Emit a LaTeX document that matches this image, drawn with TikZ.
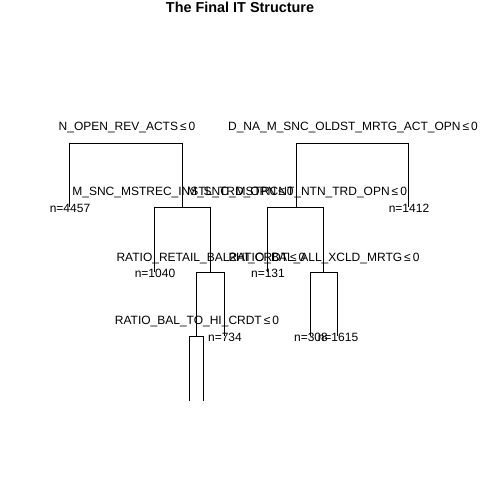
\documentclass[tikz,border=0pt]{standalone}
\usepackage{fontspec}
\setmainfont{Liberation Sans}
\begin{document}
\begin{tikzpicture}[x=0.75pt,y=-0.75pt,
  lab/.style={font=\fontsize{9}{10}\selectfont, inner sep=0pt, anchor=base},
  cnt/.style={font=\fontsize{9}{10}\selectfont, inner sep=0pt, anchor=base},
  edge/.style={draw=black, line width=0.75pt}]
\fill[white] (0,0) rectangle (480,480);
\useasboundingbox (0,0) rectangle (480,480);
% title
\node[font=\fontsize{10.8}{12}\selectfont\bfseries, inner sep=0pt, anchor=base] (title) at (240,12.7) {The Final IT Structure};
% bracket corners
\coordinate (s1l) at (70,143);  \coordinate (s1r) at (183,143);
\coordinate (s2l) at (297,143); \coordinate (s2r) at (409,143);
\coordinate (s3l) at (155,207); \coordinate (s3m) at (183,207); \coordinate (s3r) at (211,207);
\coordinate (s4l) at (268,207); \coordinate (s4m) at (297,207); \coordinate (s4r) at (324,207);
\coordinate (s5l) at (197,272); \coordinate (s5m) at (211,272); \coordinate (s5r) at (225,272);
\coordinate (s6l) at (311,272); \coordinate (s6m) at (324,272); \coordinate (s6r) at (338,272);
\coordinate (s7l) at (190,336); \coordinate (s7m) at (197,336); \coordinate (s7r) at (204,336);
% leaf ends
\coordinate (e4457) at (70,207);
\coordinate (e1412) at (409,207);
\coordinate (e1040) at (155,272);
\coordinate (e131) at (268,272);
\coordinate (e734) at (225,336);
\coordinate (e308) at (311,336);
\coordinate (e1615) at (338,336);
\coordinate (e7a) at (190,401);
\coordinate (e7b) at (204,401);
% connectors
\draw[edge] (e4457) -- (s1l) -- (s1r) -- (s3m);
\draw[edge] (s4m) -- (s2l) -- (s2r) -- (e1412);
\draw[edge] (e1040) -- (s3l) -- (s3r) -- (s5m);
\draw[edge] (e131) -- (s4l) -- (s4r) -- (s6m);
\draw[edge] (s7m) -- (s5l) -- (s5r) -- (e734);
\draw[edge] (e308) -- (s6l) -- (s6r) -- (e1615);
\draw[edge] (e7a) -- (s7l) -- (s7r) -- (e7b);
% split labels
\node[lab] (t1) at (127,130) {N\_OPEN\_REV\_ACTS\,≤\,0};
\node[lab] (t2) at (353,130) {D\_NA\_M\_SNC\_OLDST\_MRTG\_ACT\_OPN\,≤\,0};
\node[lab] (t3) at (183,195.5) {M\_SNC\_MSTREC\_INSTL\_TRD\_OPN\,≤\,0};
\node[lab] (t4) at (297,195.5) {M\_SNC\_MSTRCNT\_NTN\_TRD\_OPN\,≤\,0};
\node[lab] (t5) at (211,261) {RATIO\_RETAIL\_BAL2HI\_CRDT\,≤\,0};
\node[lab] (t6) at (324,261) {RATIO\_BAL\_ALL\_XCLD\_MRTG\,≤\,0};
\node[lab] (t7) at (197,324) {RATIO\_BAL\_TO\_HI\_CRDT\,≤\,0};
% leaf counts
\node[cnt] (n4457) at (70,212) {n=4457};
\node[cnt] (n1412) at (409,212) {n=1412};
\node[cnt] (n1040) at (155,277.5) {n=1040};
\node[cnt] (n131) at (268,277.5) {n=131};
\node[cnt] (n734) at (225,341.5) {n=734};
\node[cnt] (n308) at (311,341.5) {n=308};
\node[cnt] (n1615) at (338,341.5) {n=1615};
\end{tikzpicture}
\end{document}
